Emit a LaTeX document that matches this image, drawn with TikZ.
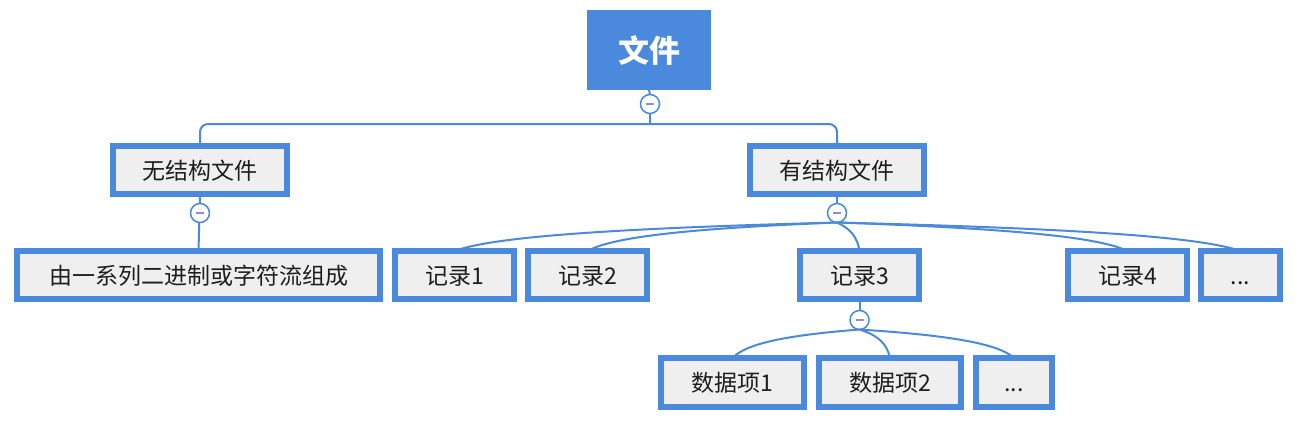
\documentclass[tikz,border=0pt]{standalone}
\usepackage{fontspec}
\newfontfamily\cjk{Noto Sans CJK SC}
\usetikzlibrary{calc}
\definecolor{xblue}{HTML}{4A89DC}
\definecolor{xfill}{HTML}{EFEFEF}
\definecolor{xminus}{HTML}{9090C0}
\definecolor{xtext}{HTML}{1E1E1E}
\newcommand\xlink[4]{\draw[link] (#1.south) .. controls ($(#1.south)+(#3,6)$) and ($(#2.north)+(#4,-14)$) .. (#2.north);}
\begin{document}
\begin{tikzpicture}[x=1pt,y=-1pt,
  box/.style={draw=xblue, line width=6pt, fill=xfill, inner sep=0pt, outer sep=0pt,
    minimum height=48pt, text height=20pt, text depth=2pt,
    font=\cjk\fontsize{23}{27}\selectfont, text=xtext},
  rootbox/.style={fill=xblue, draw=xblue, line width=1pt, inner sep=0pt, outer sep=0pt,
    minimum width=123pt, minimum height=79pt, font=\cjk\bfseries\fontsize{31}{36}\selectfont, text=white},
  link/.style={draw=xblue, line width=2pt},
  fold/.style={circle, draw=xblue, line width=1.5pt, fill=white, minimum size=19pt, inner sep=0pt, outer sep=0pt,
    path picture={\draw[xminus, line width=2pt] ([xshift=-4pt]path picture bounding box.center) -- ([xshift=4pt]path picture bounding box.center);}}]
\useasboundingbox (0,0) rectangle (1298,429);

% nodes
\node[rootbox] (root) at (649,50) {文件};
\node[box, minimum width=174pt] (A) at (200,170) {无结构文件};
\node[box, minimum width=174pt] (B) at (837,170) {有结构文件};
\node[box, minimum width=363pt] (A1) at (198.5,275) {由一系列二进制或字符流组成};
\node[box, minimum width=119pt] (R1) at (454.5,275) {记录1};
\node[box, minimum width=119pt] (R2) at (587.5,275) {记录2};
\node[box, minimum width=119pt] (R3) at (859.5,275) {记录3};
\node[box, minimum width=119pt] (R4) at (1127.5,275) {记录4};
\node[box, minimum width=79pt] (R5) at (1240.5,275) {...};
\node[box, minimum width=143pt, minimum height=49pt] (D1) at (732.5,382.5) {数据项1};
\node[box, minimum width=142pt, minimum height=49pt] (D2) at (890,382.5) {数据项2};
\node[box, minimum width=76pt, minimum height=49pt] (D3) at (1014,382.5) {...};

% connectors
\coordinate (h0) at (650,124);
\draw[link] (root.south) -- (650,95);
\draw[link] (650,113) -- (h0);
\draw[link, rounded corners=8pt] (A.north) |- (h0) -| (B.north);
\node[fold] (f0) at (650,104) {};

\draw[link] (A.south) -- (A1.north);
\node[fold] (f1) at (200,213) {};

\draw[link] (B.south) -- (837,205);
\node[fold] (f2) at (837,213) {};
\xlink{f2}{R1}{-230}{38}
\xlink{f2}{R2}{-150}{25}
\xlink{f2}{R3}{13}{-2}
\xlink{f2}{R4}{174}{-29}
\xlink{f2}{R5}{241}{-40}

\draw[link] (R3.south) -- (859.5,312);
\node[fold] (f3) at (859.5,320) {};
\xlink{f3}{D1}{-76}{13}
\xlink{f3}{D2}{19}{-3}
\xlink{f3}{D3}{93}{-15}
\end{tikzpicture}
\end{document}
